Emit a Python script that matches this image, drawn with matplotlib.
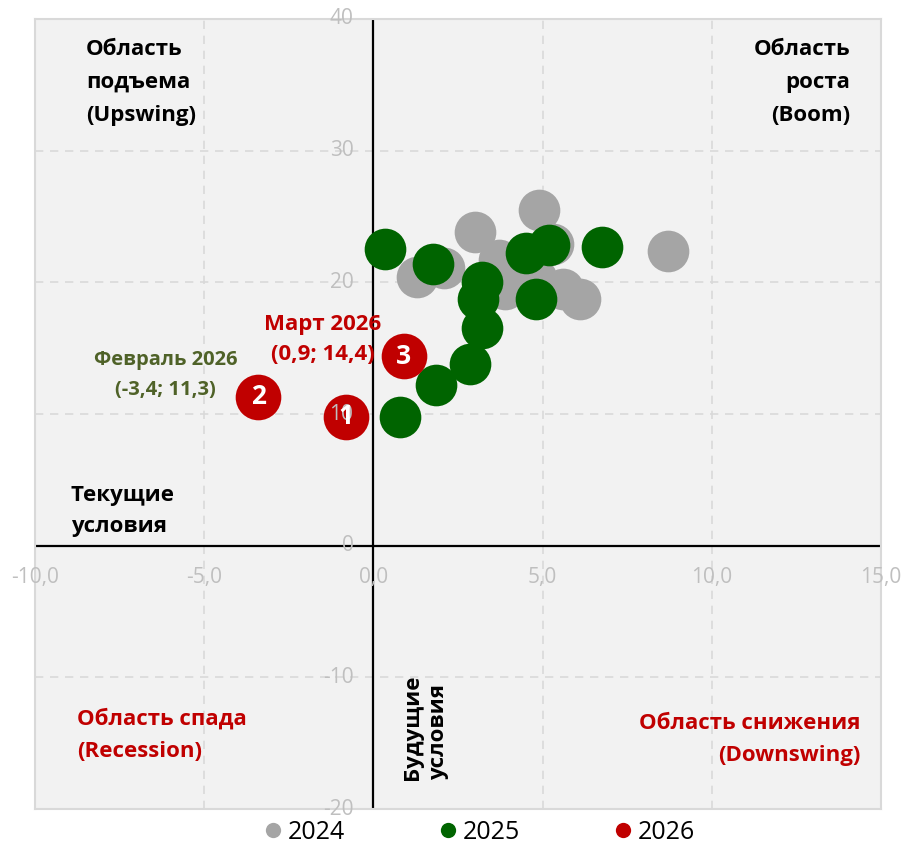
import numpy as np
import matplotlib.pyplot as plt
from matplotlib.lines import Line2D
from matplotlib.transforms import offset_copy

plt.rcParams['font.family'] = ['Open Sans', 'DejaVu Sans']

# данные: x - будущие условия, y - текущие условия
x2024 = [4.9, 3.0, 8.7, 1.3, 2.1, 3.7, 3.9, 5.3, 5.6, 6.1, 4.6, 4.8]
y2024 = [25.5, 23.8, 22.4, 20.4, 21.1, 21.7, 19.5, 22.9, 19.5, 18.7, 21.2, 20.3]

x2025 = [0.35, 1.75, 3.2, 3.1, 3.2, 2.85, 1.85, 0.8, 4.5, 5.2, 6.75, 4.8]
y2025 = [22.5, 21.4, 20.0, 18.7, 16.5, 13.8, 12.2, 9.8, 22.2, 22.8, 22.7, 18.7]

x2026 = [-0.8, -3.4, 0.9]
y2026 = [9.8, 11.3, 14.4]
n2026 = ['1', '2', '3']

xticks = [-10, -5, 0, 5, 10, 15]
yticks = [-20, -10, 0, 10, 20, 30, 40]

c_gray = '#A5A5A5'
c_green = '#006400'
c_red = '#C00000'
c_tick = '#BFBFBF'

fig = plt.figure(figsize=(9.05, 8.46), dpi=100)
ax = fig.add_axes([35/905, 1-809/846, 846/905, 790/846])
ax.set_facecolor('#F2F2F2')
ax.set_xlim(-10, 15)
ax.set_ylim(-20, 40)

# сетка
ax.set_xticks(xticks)
ax.set_yticks(yticks)
ax.tick_params(length=0, labelbottom=False, labelleft=False)
ax.grid(True, color='#D9D9D9', linestyle=(0, (5, 4)), linewidth=1.2)
for s in ax.spines.values():
    s.set_color('#D9D9D9')
    s.set_linewidth(1.5)

ax.axhline(0, color='black', lw=1.6, zorder=2)
ax.axvline(0, color='black', lw=1.6, zorder=2)

# подписи осей у нулевых линий
ty = offset_copy(ax.transData, fig=fig, x=-20, y=0, units='dots')
for v in yticks:
    ax.text(0, v, str(v), transform=ty, ha='right', va='center',
            color=c_tick, fontsize=15, zorder=5.5)
tx = offset_copy(ax.transData, fig=fig, x=0, y=-32, units='dots')
for v in xticks:
    ax.text(v, 0, f'{v:.1f}'.replace('.', ','), transform=tx, ha='center',
            va='center', color=c_tick, fontsize=15, clip_on=False)

# точки
ax.scatter(x2024, y2024, s=900, color=c_gray, zorder=3, linewidths=0)
ax.scatter(x2025, y2025, s=900, color=c_green, zorder=4, linewidths=0)
ax.scatter(x2026, y2026, s=1080, color=c_red, zorder=5, linewidths=0)
for xi, yi, t in zip(x2026, y2026, n2026):
    ax.text(xi, yi, t, ha='center', va='center', color='white',
            fontsize=19, fontweight='bold', zorder=6)

# подписи областей
ax.text(-8.5, 35.2, 'Область\nподъема\n(Upswing)', ha='left', va='center',
        fontsize=16, fontweight='bold', linespacing=1.75)
ax.text(14.1, 35.2, 'Область\nроста\n(Boom)', ha='right', va='center',
        fontsize=16, fontweight='bold', linespacing=1.75)
ax.text(-8.95, 2.65, 'Текущие\nусловия', ha='left', va='center',
        fontsize=16, fontweight='bold', linespacing=1.6)
ax.text(-8.75, -14.4, 'Область спада\n(Recession)', ha='left', va='center',
        fontsize=16, fontweight='bold', color=c_red, linespacing=1.7)
ax.text(14.4, -14.7, 'Область снижения\n(Downswing)', ha='right', va='center',
        fontsize=16, fontweight='bold', color=c_red, linespacing=1.7)
ax.text(1.54, -17.8, 'Будущие\nусловия', ha='center', va='bottom', rotation=90,
        fontsize=16, fontweight='bold', multialignment='left', linespacing=1.35)

ax.text(-6.15, 12.95, 'Февраль 2026\n(-3,4; 11,3)', ha='center', va='center',
        fontsize=14.5, fontweight='bold', color='#4F6228', linespacing=1.65)
ax.text(-1.5, 15.65, 'Март 2026\n(0,9; 14,4)', ha='center', va='center',
        fontsize=16, fontweight='bold', color=c_red, linespacing=1.55)

handles = [Line2D([], [], ls='', marker='o', ms=11, mec='none', mfc=c)
           for c in (c_gray, c_green, c_red)]
fig.legend(handles, ['2024', '2025', '2026'], loc='center',
           bbox_to_anchor=(0.528, 1-832/846), ncol=3, frameon=False,
           fontsize=18, handletextpad=0.1, columnspacing=3.6, handlelength=1.0)

fig.savefig('out.png', dpi=100)
